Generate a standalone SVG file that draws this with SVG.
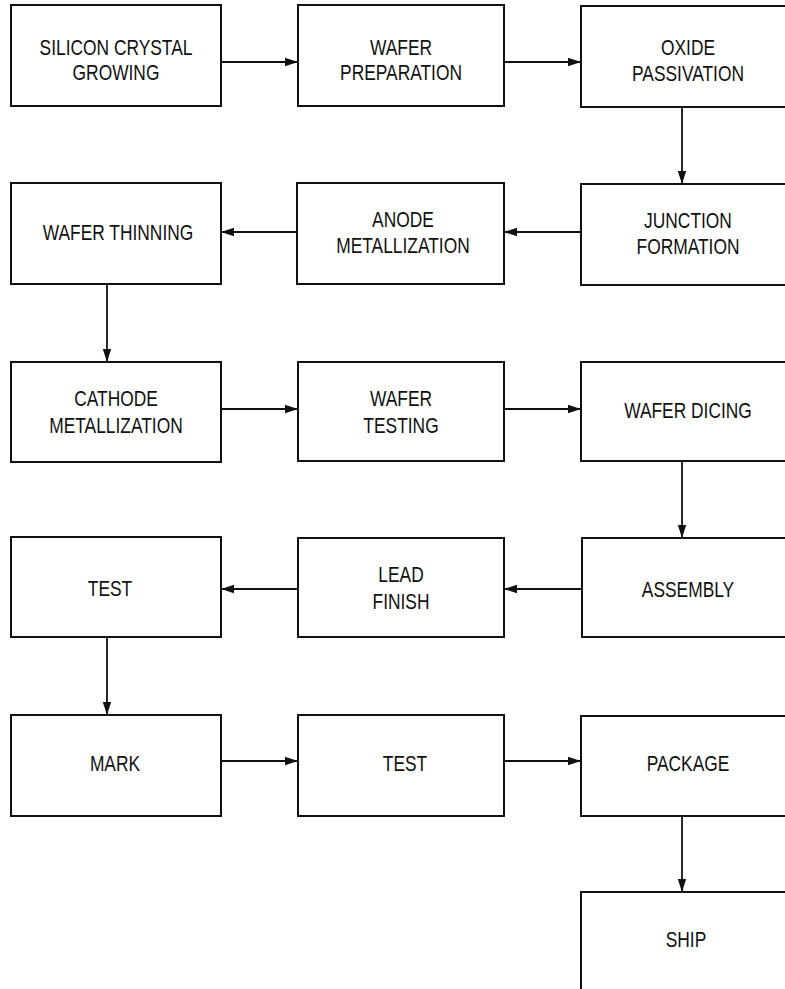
<svg xmlns="http://www.w3.org/2000/svg" width="785" height="989" viewBox="0 0 785 989">
<style>
.box{fill:none;stroke:#111;stroke-width:2}
.lbl{font-family:"Liberation Sans",Arial,Helvetica,sans-serif;font-size:22px;fill:#111;text-anchor:middle}
.con{stroke:#111;stroke-width:1.8;fill:none;marker-end:url(#ah)}
</style>
<defs>
<marker id="ah" markerUnits="userSpaceOnUse" markerWidth="14" markerHeight="10" refX="13" refY="5" orient="auto">
<path d="M0,0.8 L13,5 L0,9.2 Z" fill="#111"/>
</marker>
</defs>
<rect width="785" height="989" fill="#fff"/>
<g id="n1"><rect class="box" x="11" y="5" width="210" height="101"/><text class="lbl" transform="matrix(0.79,0,0,1,116,55)">SILICON CRYSTAL</text><text class="lbl" transform="matrix(0.79,0,0,1,116,80)">GROWING</text></g>
<g id="n2"><rect class="box" x="298" y="5" width="206" height="101"/><text class="lbl" transform="matrix(0.79,0,0,1,401,55)">WAFER</text><text class="lbl" transform="matrix(0.79,0,0,1,401,80)">PREPARATION</text></g>
<g id="n3"><rect class="box" x="581" y="6" width="212" height="101"/><text class="lbl" transform="matrix(0.79,0,0,1,688,55)">OXIDE</text><text class="lbl" transform="matrix(0.79,0,0,1,688,81)">PASSIVATION</text></g>
<g id="n4"><rect class="box" x="581" y="184" width="212" height="101"/><text class="lbl" transform="matrix(0.79,0,0,1,688,228)">JUNCTION</text><text class="lbl" transform="matrix(0.79,0,0,1,688,254)">FORMATION</text></g>
<g id="n5"><rect class="box" x="297" y="183" width="207" height="101"/><text class="lbl" transform="matrix(0.79,0,0,1,403,227)">ANODE</text><text class="lbl" transform="matrix(0.79,0,0,1,403,253)">METALLIZATION</text></g>
<g id="n6"><rect class="box" x="11" y="183" width="210" height="101"/><text class="lbl" transform="matrix(0.79,0,0,1,118,240)">WAFER THINNING</text></g>
<g id="n7"><rect class="box" x="11" y="362" width="210" height="100"/><text class="lbl" transform="matrix(0.79,0,0,1,116,406)">CATHODE</text><text class="lbl" transform="matrix(0.79,0,0,1,116,433)">METALLIZATION</text></g>
<g id="n8"><rect class="box" x="298" y="362" width="206" height="99"/><text class="lbl" transform="matrix(0.79,0,0,1,401,406)">WAFER</text><text class="lbl" transform="matrix(0.79,0,0,1,401,433)">TESTING</text></g>
<g id="n9"><rect class="box" x="581" y="362" width="212" height="99"/><text class="lbl" transform="matrix(0.79,0,0,1,688,418)">WAFER DICING</text></g>
<g id="n10"><rect class="box" x="582" y="538" width="211" height="99"/><text class="lbl" transform="matrix(0.79,0,0,1,688,597)">ASSEMBLY</text></g>
<g id="n11"><rect class="box" x="298" y="538" width="206" height="99"/><text class="lbl" transform="matrix(0.79,0,0,1,401,582)">LEAD</text><text class="lbl" transform="matrix(0.79,0,0,1,401,609)">FINISH</text></g>
<g id="n12"><rect class="box" x="11" y="537" width="210" height="100"/><text class="lbl" transform="matrix(0.79,0,0,1,110,596)">TEST</text></g>
<g id="n13"><rect class="box" x="11" y="715" width="210" height="101"/><text class="lbl" transform="matrix(0.79,0,0,1,115,771)">MARK</text></g>
<g id="n14"><rect class="box" x="298" y="715" width="206" height="101"/><text class="lbl" transform="matrix(0.79,0,0,1,405,771)">TEST</text></g>
<g id="n15"><rect class="box" x="581" y="716" width="212" height="100"/><text class="lbl" transform="matrix(0.79,0,0,1,688,771)">PACKAGE</text></g>
<g id="n16"><rect class="box" x="581" y="892" width="212" height="110"/><text class="lbl" transform="matrix(0.79,0,0,1,686,947)">SHIP</text></g>
<g id="connectors">
<line class="con" x1="221" y1="62" x2="298" y2="62"/>
<line class="con" x1="504" y1="62" x2="581" y2="62"/>
<line class="con" x1="682" y1="107" x2="682" y2="184"/>
<line class="con" x1="581" y1="232" x2="504" y2="232"/>
<line class="con" x1="297" y1="232" x2="221" y2="232"/>
<line class="con" x1="107" y1="284" x2="107" y2="362"/>
<line class="con" x1="221" y1="409" x2="298" y2="409"/>
<line class="con" x1="504" y1="409" x2="581" y2="409"/>
<line class="con" x1="682" y1="461" x2="682" y2="538"/>
<line class="con" x1="582" y1="589" x2="504" y2="589"/>
<line class="con" x1="298" y1="589" x2="221" y2="589"/>
<line class="con" x1="107" y1="637" x2="107" y2="715"/>
<line class="con" x1="221" y1="761" x2="298" y2="761"/>
<line class="con" x1="504" y1="761" x2="581" y2="761"/>
<line class="con" x1="682" y1="816" x2="682" y2="892"/>
</g>
</svg>
